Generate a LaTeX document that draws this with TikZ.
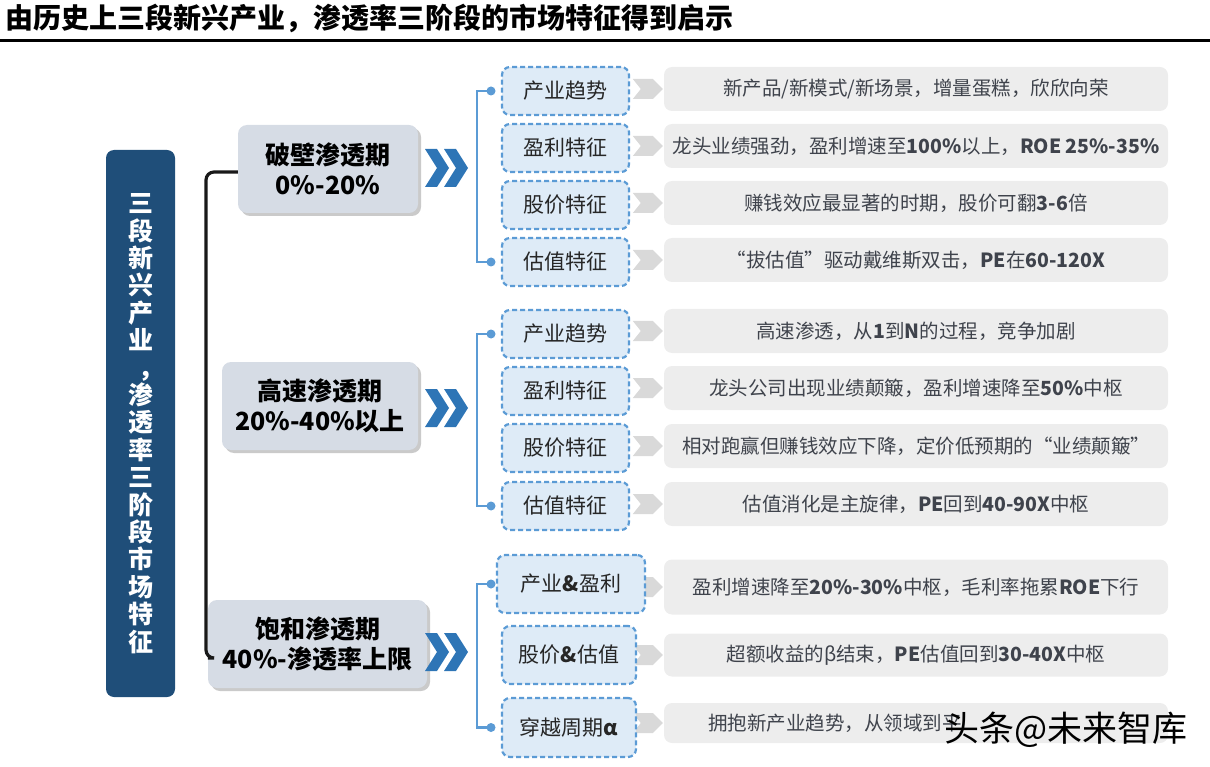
\documentclass[tikz,border=0pt]{standalone}
\usepackage{fontspec}
\setmainfont{Noto Sans CJK SC}
\usetikzlibrary{calc,shadows}

\definecolor{navy}{HTML}{1F4E79}
\definecolor{stagefill}{HTML}{D6DCE5}
\definecolor{chevblue}{HTML}{2E75B6}
\definecolor{tagblue}{HTML}{5B9BD5}
\definecolor{tagfill}{HTML}{DEEBF7}
\definecolor{descfill}{HTML}{EDEDED}
\definecolor{tipgray}{HTML}{D9D9D9}
\definecolor{desctext}{HTML}{3F434C}

\tikzset{
  stagebox/.style={fill=stagefill, rounded corners=9pt, align=center,
    drop shadow={shadow xshift=3pt, shadow yshift=-3pt, fill=black!35, opacity=.6},
    font=\bfseries\fontsize{25}{30}\selectfont, inner sep=0pt},
  tagbox/.style={fill=tagfill, draw=tagblue, line width=2.2pt, dash pattern=on 5pt off 3pt,
    rounded corners=8pt, minimum width=127, minimum height=48, inner sep=0pt,
    font=\fontsize{21}{24}\selectfont, text=black!85},
  descbox/.style={fill=descfill, rounded corners=8pt, minimum width=504, minimum height=44,
    inner sep=0pt, font=\fontsize{19.5}{22}\selectfont, text=desctext},
  spine/.style={line width=3.2pt, draw=black!90},
  bluebrace/.style={line width=2.4pt, draw=tagblue},
  dblchev/.pic={
    \fill[chevblue] (0,-19) -- (12,-19) -- (24,0) -- (12,19) -- (0,19) -- (12,0) -- cycle;
    \fill[chevblue] (19,-19) -- (31,-19) -- (43,0) -- (31,19) -- (19,19) -- (31,0) -- cycle;
  },
  graytip/.pic={
    \fill[tipgray] (0,-10) -- (20,-10) -- (30,0) -- (20,10) -- (0,10) -- (8,0) -- cycle;
  }
}

\begin{document}
\begin{tikzpicture}[x=1pt, y=-1pt]
  \useasboundingbox (0,0) rectangle (1210,767);

  % Title and rule
  \node[anchor=west, font=\bfseries\fontsize{28}{30}\selectfont] (title) at (2,18)
    {由历史上三段新兴产业，渗透率三阶段的市场特征得到启示};
  \draw[line width=3pt] (0,41) -- (1210,41);

  % Left column
  \node[fill=navy, rounded corners=8pt, minimum width=69, minimum height=547, inner sep=0pt,
        text=white, align=center, font=\bfseries\fontsize{25}{27.4}\selectfont] (main) at (140.5,423.5)
    {三\\段\\新\\兴\\产\\业\\\makebox[1em][l]{\hspace{0.4em}，}\\渗\\透\\率\\三\\阶\\段\\市\\场\\特\\征};

  % Stages
  \node[stagebox, minimum width=180, minimum height=88] (s1) at (328,169) {破壁渗透期\\0\%-20\%};
  \node[stagebox, minimum width=196, minimum height=88] (s2) at (320,406) {高速渗透期\\20\%-40\%以上};
  \node[stagebox, minimum width=219, minimum height=88] (s3) at (317.5,644) {饱和渗透期\\40\%-渗透率上限};

  % Spine
  \draw[spine, rounded corners=8pt] ($(s1.west)+(0,3)$) -- (206,172) -- (206,658) -- ($(s3.west)+(0,14)$);

  % Chevrons
  \pic at (425,168) {dblchev};
  \pic at (425,408) {dblchev};
  \pic at (425,652) {dblchev};

  % Descriptions
  \node[descbox] (d11) at (916,89) {新产品/新模式/新场景，增量蛋糕，欣欣向荣};
  \node[descbox] (d12) at (916,146) {龙头业绩强劲，盈利增速至\textbf{100\%}以上，\textbf{ROE 25\%-35\%}};
  \node[descbox] (d13) at (916,203) {赚钱效应最显著的时期，股价可翻\textbf{3-6}倍};
  \node[descbox] (d14) at (916,260) {“拔估值”驱动戴维斯双击，\textbf{PE}在\textbf{60-120X}};

  \node[descbox] (d21) at (916,331) {高速渗透，从\textbf{1}到\textbf{N}的过程，竞争加剧};
  \node[descbox] (d22) at (916,388) {龙头公司出现业绩颠簸，盈利增速降至\textbf{50\%}中枢};
  \node[descbox] (d23) at (916,446) {相对跑赢但赚钱效应下降，定价低预期的“业绩颠簸”};
  \node[descbox] (d24) at (916,504) {估值消化是主旋律，\textbf{PE}回到\textbf{40-90X}中枢};

  \node[descbox, minimum height=55] (d31) at (916,587) {盈利增速降至\textbf{20\%-30\%}中枢，毛利率拖累\textbf{ROE}下行};
  \node[descbox, minimum height=43] (d32) at (916,655) {超额收益的β结束，\textbf{PE}估值回到\textbf{30-40X}中枢};
  \node[descbox, minimum height=40] (d33) at (916,723) {};
  \node[anchor=west, font=\fontsize{19.5}{22}\selectfont, text=desctext, inner sep=0pt] (d33t) at (708,723)
    {拥抱新产业趋势，从领域到平};

  % Gray tips
  \foreach \d in {d11,d12,d13,d14,d21,d22,d23,d24,d31,d32,d33}
    \pic at ($(\d.west)+(-31,0)$) {graytip};

  % Tags
  \node[tagbox] (l11) at (565.5,91) {产业趋势};
  \node[tagbox] (l12) at (565.5,148) {盈利特征};
  \node[tagbox] (l13) at (565.5,205) {股价特征};
  \node[tagbox] (l14) at (565.5,262) {估值特征};

  \node[tagbox] (l21) at (565.5,334) {产业趋势};
  \node[tagbox] (l22) at (565.5,391) {盈利特征};
  \node[tagbox] (l23) at (565.5,448) {股价特征};
  \node[tagbox] (l24) at (565.5,506) {估值特征};

  \node[tagbox, minimum width=148, minimum height=58] (l31) at (571,584) {产业\textbf{\&}盈利};
  \node[tagbox, minimum width=134, minimum height=58] (l32) at (569,655) {股价\textbf{\&}估值};
  \node[tagbox, minimum width=134, minimum height=59] (l33) at (569,727.5) {穿越周期\textbf{α}};

  % Blue braces
  \coordinate (bx) at (477,0);
  \coordinate (dx) at (491,0);
  \draw[bluebrace] (dx |- l11.west) -- (bx |- l11.west) -- (bx |- l14.west) -- (dx |- l14.west);
  \draw[bluebrace] (dx |- l21.west) -- (bx |- l21.west) -- (bx |- l24.west) -- (dx |- l24.west);
  \draw[bluebrace] (dx |- l31.west) -- (bx |- l31.west) -- (bx |- l33.west) -- (dx |- l33.west);
  \foreach \l in {l11,l14,l21,l24,l31,l33}
    \fill[tagblue] (dx |- \l.west) circle (4.5);

  % Watermark
  \node[anchor=west, font=\fontsize{35}{36}\selectfont, text=black, inner sep=0pt] (wm) at (944,730) {头条@未来智库};
\end{tikzpicture}
\end{document}
